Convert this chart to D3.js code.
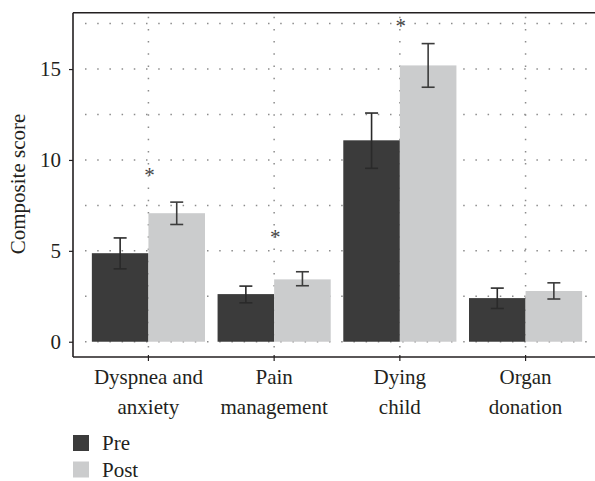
<!DOCTYPE html>
<html>
<head>
<meta charset="utf-8">
<script src="https://cdn.jsdelivr.net/npm/d3@7"></script>
<style>
  body { margin: 0; background: #fff; }
  svg { display: block; }
  svg text { font-family: "Liberation Serif", "DejaVu Serif", serif; }
</style>
</head>
<body>
<div id="chart"></div>
<script>
// data
const categories = [["Dyspnea and", "anxiety"], ["Pain", "management"], ["Dying", "child"], ["Organ", "donation"]];
const series = ["Pre", "Post"];
const preMean = [4.87, 2.62, 11.08, 2.40];
const preLow = [4.01, 2.14, 9.54, 1.83];
const preHigh = [5.71, 3.06, 12.58, 2.95];
const postMean = [7.07, 3.43, 15.20, 2.79];
const postLow = [6.45, 3.08, 14.00, 2.35];
const postHigh = [7.68, 3.85, 16.40, 3.24];
const sigY = [9.27, 5.87, 17.5, null]; // asterisk centre heights
const yTicks = [0, 5, 10, 15];
const yGrid = [0, 2.5, 5, 7.5, 10, 12.5, 15, 17.5];

const width = 595, height = 481;
const plotLeft = 73, plotRight = 601, plotTop = 12.7, plotBottom = 357;
const ink = "#231f20";
const colors = { Pre: "#3b3b3b", Post: "#cbcccd" };
const fs = 21;

const svg = d3.select("#chart").append("svg")
    .attr("width", width)
    .attr("height", height);

const keys = categories.map(c => c.join(" "));
const x = d3.scaleBand().domain(keys).range([plotLeft, plotRight]).paddingInner(0).paddingOuter(0.1);
const xs = d3.scaleBand().domain(series)
    .range([x.bandwidth() * 0.05, x.bandwidth() * 0.95]);
const y = d3.scaleLinear().domain([-0.84, 18.1]).range([plotBottom, plotTop]);

const rows = [];
keys.forEach((k, i) => {
    rows.push({ key: k, s: "Pre", v: preMean[i], lo: preLow[i], hi: preHigh[i] });
    rows.push({ key: k, s: "Post", v: postMean[i], lo: postLow[i], hi: postHigh[i] });
});

// dotted grid
const grid = svg.append("g")
    .attr("stroke", "#8c8c8c")
    .attr("stroke-width", 1.5)
    .attr("stroke-dasharray", "1.5 10.7");
grid.selectAll("line.h").data(yGrid).join("line")
    .attr("class", "h")
    .attr("x1", plotLeft + 12).attr("x2", width)
    .attr("y1", d => y(d)).attr("y2", d => y(d));
grid.selectAll("line.v").data(keys).join("line")
    .attr("class", "v")
    .attr("x1", d => x(d) + x.bandwidth() / 2).attr("x2", d => x(d) + x.bandwidth() / 2)
    .attr("y1", plotTop + 4).attr("y2", plotBottom);

// bars
svg.append("g").selectAll("rect").data(rows).join("rect")
    .attr("x", d => x(d.key) + xs(d.s))
    .attr("width", xs.bandwidth())
    .attr("y", d => y(d.v))
    .attr("height", d => y(0) - y(d.v))
    .attr("fill", d => colors[d.s]);

// error bars
const eb = svg.append("g").selectAll("g").data(rows).join("g")
    .attr("transform", d => `translate(${x(d.key) + xs(d.s) + xs.bandwidth() / 2},0)`)
    .attr("stroke", d => d.s === "Pre" ? "#2a2a2a" : "#3c3c3c")
    .attr("stroke-width", 1.6);
eb.append("line").attr("y1", d => y(d.lo)).attr("y2", d => y(d.hi));
eb.append("line").attr("x1", -6.5).attr("x2", 6.5).attr("y1", d => y(d.hi)).attr("y2", d => y(d.hi));
eb.append("line").attr("x1", -6.5).attr("x2", 6.5).attr("y1", d => y(d.lo)).attr("y2", d => y(d.lo));

// significance asterisks
svg.append("g").selectAll("text").data(keys.map((k, i) => ({ k, v: sigY[i] })).filter(d => d.v != null))
    .join("text")
    .attr("x", d => x(d.k) + x.bandwidth() / 2 + 1)
    .attr("y", d => y(d.v) + 9)
    .attr("text-anchor", "middle")
    .attr("font-size", fs)
    .attr("fill", "#444")
    .text("*");

// frame
const frame = svg.append("g").attr("stroke", ink).attr("stroke-width", 1.6).attr("fill", "none");
frame.append("line").attr("x1", plotLeft).attr("x2", width).attr("y1", plotTop).attr("y2", plotTop);
frame.append("line").attr("x1", plotLeft).attr("x2", plotLeft).attr("y1", plotTop).attr("y2", plotBottom);

// y axis
const yAxis = svg.append("g")
    .attr("transform", `translate(${plotLeft},0)`)
    .call(d3.axisLeft(y).tickValues(yTicks).tickSize(4).tickPadding(8));
yAxis.select(".domain").remove();
yAxis.selectAll("line").attr("stroke", ink).attr("stroke-width", 1.2);
yAxis.selectAll("text").attr("font-size", fs).attr("fill", ink);

// x axis
const xAxis = svg.append("g")
    .attr("transform", `translate(0,${plotBottom})`)
    .call(d3.axisBottom(x).tickSize(4).tickFormat(""));
xAxis.select(".domain").attr("stroke", ink).attr("stroke-width", 1.6).attr("d", `M${plotLeft},0H${width}`);
xAxis.selectAll(".tick line").attr("stroke", ink).attr("stroke-width", 1.2).attr("y1", -2);

svg.append("g").selectAll("text").data(categories).join("text")
    .attr("x", (d, i) => x(keys[i]) + x.bandwidth() / 2)
    .attr("text-anchor", "middle")
    .attr("font-size", fs)
    .attr("fill", ink)
    .each(function(d) {
        const cx = d3.select(this).attr("x");
        d3.select(this).selectAll("tspan").data(d).join("tspan")
            .attr("x", cx)
            .attr("y", (t, j) => 384 + j * 30)
            .text(t => t);
    });

// y title
svg.append("text")
    .attr("transform", "translate(25,184) rotate(-90)")
    .attr("text-anchor", "middle")
    .attr("font-size", fs)
    .attr("fill", ink)
    .text("Composite score");

// legend
const lg = svg.append("g").selectAll("g").data(series).join("g")
    .attr("transform", (d, i) => `translate(${plotLeft},${435 + i * 26.5})`);
lg.append("rect").attr("width", 16).attr("height", 16).attr("fill", d => colors[d]);
lg.append("text").attr("x", 29).attr("y", 15).attr("font-size", fs).attr("fill", ink).text(d => d);
</script>
</body>
</html>
